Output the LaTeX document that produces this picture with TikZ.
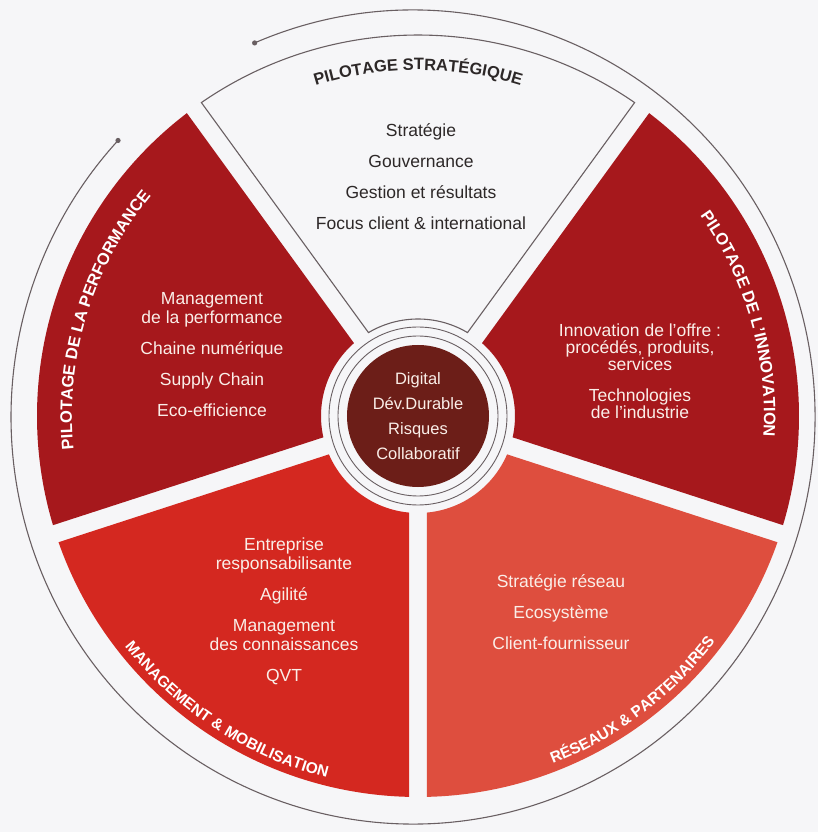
\documentclass[tikz,border=0pt]{standalone}
\usepackage{fontspec}
\setmainfont{Liberation Sans}
\definecolor{paper}{RGB}{246,246,248}
\definecolor{deepred}{RGB}{166,24,28}
\definecolor{brightred}{RGB}{212,40,32}
\definecolor{coral}{RGB}{222,78,62}
\definecolor{corebrown}{RGB}{108,30,24}
\definecolor{rimgray}{RGB}{105,95,98}
\definecolor{cream}{RGB}{250,238,232}
\definecolor{ink}{RGB}{45,40,40}
\usetikzlibrary{decorations.text}

% one ring sector, white gap of 18pt on both sides
\newcommand{\ringsector}[3]{%
  \path[#3] ({#1+5.3}:97) -- ({#1+1.35}:381)
    arc[start angle={#1+1.35}, end angle={#2-1.35}, radius=381]
    -- ({#2-5.3}:97)
    arc[start angle={#2-5.3}, end angle={#1+5.3}, radius=97] -- cycle;}
\newcommand{\rimfont}{\fontsize{16.5}{18}\selectfont\bfseries}
\newcommand{\lowrimfont}{\fontsize{15.5}{18}\selectfont\bfseries}

\begin{document}
\begin{tikzpicture}[x=1pt, y=1pt,
  itemtext/.style={align=center, text=cream, font=\fontsize{17.5}{19}\selectfont},
  coretext/.style={align=center, text=cream, font=\fontsize{16.5}{25}\selectfont},
  rim/.style={draw=rimgray, line width=1.1}
]
  % Background
  \fill[paper] (-418,-416) rectangle (400,416);
  \useasboundingbox (-418,-416) rectangle (400,416);

  % Outer ring
  \coordinate (ringA) at ([shift={(-5,-1)}]113.2:402 and 407);
  \coordinate (ringB) at ([shift={(-5,-1)}]-222.8:402 and 407);
  \draw[rim] (ringA) arc[start angle=113.2, end angle=-222.8, x radius=402, y radius=407];
  \fill[rimgray] (ringA) circle (2.6) (ringB) circle (2.6);

  % Sectors
  \ringsector{54}{126}{fill=paper, rim}
  \ringsector{126}{198}{fill=deepred}
  \ringsector{198}{270}{fill=brightred}
  \ringsector{270}{342}{fill=coral}
  \ringsector{-18}{54}{fill=deepred}

  % Centre
  \draw[rimgray, line width=0.9] (0,0) circle (80) (0,0) circle (89);
  \node[circle, fill=corebrown, minimum size=142pt, inner sep=0pt, coretext] (core) at (0,0)
    {Digital\\Dév.Durable\\Risques\\Collaboratif};

  % Sector titles
  \path[decorate, decoration={text along path, text align=center, text color=ink,
    text={|\rimfont|PILOTAGE STRATÉGIQUE}}] (130:346) arc[start angle=130, end angle=50, radius=346];
  \path[decorate, decoration={text along path, text align=center, text color=white,
    text={|\rimfont|PILOTAGE DE LA PERFORMANCE}}] (203:346) arc[start angle=203, end angle=123, radius=346];
  \path[decorate, decoration={text along path, text align=center, text color=white,
    text={|\rimfont|PILOTAGE DE L'INNOVATION}}] (56:346) arc[start angle=56, end angle=-24, radius=346];
  \path[decorate, decoration={text along path, text align=center, text color=white,
    text={|\lowrimfont|MANAGEMENT {\&} MOBILISATION}}] (197:373) arc[start angle=197, end angle=277, radius=373];
  \path[decorate, decoration={text along path, text align=center, text color=white,
    text={|\lowrimfont|RÉSEAUX {\&} PARTENAIRES}}] (-93:373) arc[start angle=-93, end angle=-13, radius=373];

  % Sector contents
  \node[itemtext, text=ink] (strategy) at (3,239)
    {Stratégie\\[12pt]Gouvernance\\[12pt]Gestion et résultats\\[12pt]Focus client \& international};
  \node[itemtext] (performance) at (-206,61)
    {Management\\de la performance\\[12pt]Chaine numérique\\[12pt]Supply Chain\\[12pt]Eco-efficience};
  \node[itemtext] (innovation) at (222,45)
    {Innovation de l'offre :\\[-2pt]procédés, produits,\\[-2pt]services\\[12pt]Technologies\\[-2pt]de l'industrie};
  \node[itemtext] (mobilisation) at (-134,-195)
    {Entreprise\\responsabilisante\\[12pt]Agilité\\[12pt]Management\\des connaissances\\[12pt]QVT};
  \node[itemtext] (network) at (143,-196)
    {Stratégie réseau\\[12pt]Ecosystème\\[12pt]Client-fournisseur};
\end{tikzpicture}
\end{document}
